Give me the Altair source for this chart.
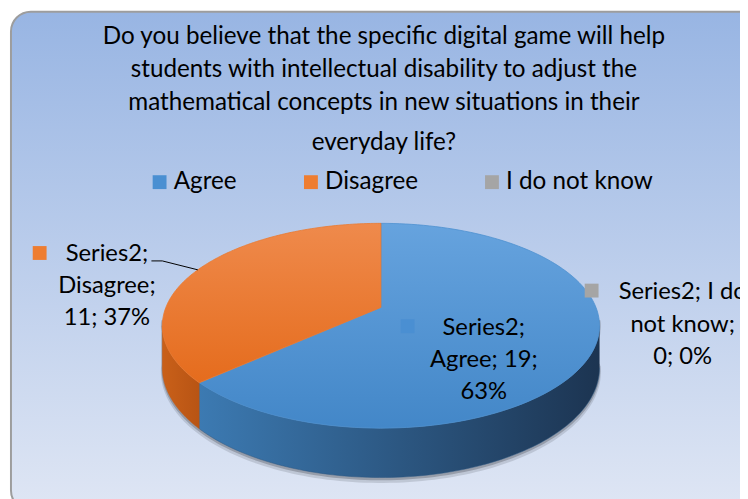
import altair as alt
import numpy as np
import pandas as pd

# ---------------- data ----------------
categories = ["Agree", "Disagree", "I do not know"]
values = [19, 11, 0]
series_name = "Series2"
title_lines = [
    "Do you believe that the specific digital game will help",
    "students with intellectual disability to adjust the",
    "mathematical concepts in new situations in their",
    "everyday life?",
]
palette = ["#4a8fd2", "#ee7d31", "#a5a5a5"]

total = sum(values)
pcts = [round(v / total * 100) for v in values]
label_texts = [
    f"{series_name};\n{categories[0]}; {values[0]};\n{pcts[0]}%",
    f"{series_name};\n{categories[1]};\n{values[1]}; {pcts[1]}%",
    f"{series_name}; I do\nnot know;\n{values[2]}; {pcts[2]}%",
]

# ---------------- layout (page pixels) ----------------
FONT = "Lato"
CX, CY = 385.0, 308.0          # apex of the pie (top face)
A, B, K, DEPTH = 217.4, 100.2, 0.179, 41.0
label_pos = [(489, 329), (108, 254), (690, 293)]   # centre of first line
marker_pos = [(412, 327), (40, 253), (598, 291)]

starts = np.concatenate([[0], np.cumsum(values)[:-1]]) / total * 360
ends = np.cumsum(values) / total * 360


def rim(theta_deg, drop=0.0):
    t = np.radians(theta_deg)
    den = 1 + K * np.cos(t)
    return CX + A * np.sin(t) / den, CY - B * np.cos(t) / den + drop / den


rows = []


def add_poly(name, xs, ys):
    for i, (x, y) in enumerate(zip(xs, ys)):
        rows.append({"piece": name, "order": i, "x": float(x), "y": float(y)})


side_lo = np.degrees(np.arccos(-K))
side_hi = 360 - side_lo
for i, cat in enumerate(categories):
    if values[i] <= 0:
        continue
    th = np.linspace(starts[i], ends[i], 120)
    xs, ys = rim(th)
    add_poly(f"top{i}", np.concatenate([[CX], xs, [CX]]), np.concatenate([[CY], ys, [CY]]))
    lo, hi = max(starts[i], side_lo), min(ends[i], side_hi)
    if lo < hi:
        th = np.linspace(lo, hi, 100)
        xt, yt = rim(th)
        xb, yb = rim(th[::-1], DEPTH)
        add_poly(f"side{i}", np.concatenate([xt, xb]), np.concatenate([yt, yb]))

# shadow beneath the front side
th = np.linspace(side_lo - 3, side_hi + 3, 120)
for j, (dx, dy) in enumerate([(0, 4), (0, 2)]):
    xt, yt = rim(th, 0)
    xb, yb = rim(th[::-1], DEPTH)
    add_poly(f"shadow{j}", np.concatenate([xt, xb + dx]), np.concatenate([yt, yb + dy]))

geo = pd.DataFrame(rows)

# leader line for the Disagree label
mid_dis = (starts[1] + ends[1]) / 2
lx, ly = rim(mid_dis)
leader = pd.DataFrame({"x": [153, 164, lx], "y": [261, 261, ly], "order": [0, 1, 2]})

title_df = pd.DataFrame({
    "text": title_lines,
    "x": [388] * len(title_lines),
    "y": [35 + 33 * i + (8 if i == len(title_lines) - 1 else 0) for i in range(len(title_lines))],
})

labels_df = pd.DataFrame({
    "text": label_texts,
    "x": [p[0] for p in label_pos],
    "y": [p[1] for p in label_pos],
})
markers_df = pd.DataFrame({
    "category": categories,
    "x": [p[0] for p in marker_pos],
    "y": [p[1] for p in marker_pos],
})

W, H = 740, 491
xs_ = alt.Scale(domain=[8, 8 + W], nice=False, zero=False)
ys_ = alt.Scale(domain=[8, 8 + H], nice=False, zero=False, reverse=True)


def X(f="x"):
    return alt.X(f"{f}:Q", scale=xs_, axis=None)


def Y(f="y"):
    return alt.Y(f"{f}:Q", scale=ys_, axis=None)


def grad_v(c1, c2):
    return alt.LinearGradient(gradient="linear", x1=0, y1=0, x2=0, y2=1,
                              stops=[alt.GradientStop(color=c1, offset=0),
                                     alt.GradientStop(color=c2, offset=1)])


def grad_h(c1, c2):
    return alt.LinearGradient(gradient="linear", x1=0, y1=0, x2=1, y2=0,
                              stops=[alt.GradientStop(color=c1, offset=0),
                                     alt.GradientStop(color=c2, offset=1)])


background = alt.Chart(pd.DataFrame({"a": [0]})).mark_rect(
    fill=grad_v("#98b5e3", "#dfe6f4"), stroke="#9d9d9d", strokeWidth=2, cornerRadius=20
).encode(x=alt.value(3), x2=alt.value(760), y=alt.value(1), y2=alt.value(505))


def poly(name, fill, stroke, sw=0.8, opacity=1.0):
    return alt.Chart(geo).transform_filter(alt.datum.piece == name).mark_line(
        fill=fill, stroke=stroke, strokeWidth=sw, opacity=opacity
    ).encode(x=X(), y=Y(), order="order:Q")


layers = [background,
          poly("shadow0", "#6f7580", "#6f7580", 3, 0.25),
          poly("shadow1", "#50545c", "#50545c", 1.5, 0.35),
          poly("side0", grad_h("#3c7ab2", "#1c3451"), "#2a5580", 0.5),
          poly("side1", grad_h("#c96019", "#b85414"), "#c05a17", 0.5),
          poly("top0", grad_v("#66a3de", "#4387c8"), "#4d90d0", 0.8),
          poly("top1", grad_v("#ef8a4c", "#e56c1d"), "#ea7a30", 0.8)]

leader_layer = alt.Chart(leader).mark_line(color="#000000", strokeWidth=1).encode(
    x=X(), y=Y(), order="order:Q")

title_layer = alt.Chart(title_df).mark_text(
    font=FONT, fontSize=24.5, color="#000000", align="center", baseline="middle"
).encode(x=X(), y=Y(), text="text:N")

label_layer = alt.Chart(labels_df).mark_text(
    font=FONT, fontSize=24, color="#000000", align="center", baseline="middle",
    lineBreak="\n", lineHeight=32.5
).encode(x=X(), y=Y(), text="text:N")

marker_layer = alt.Chart(markers_df).mark_square(size=196, filled=True, opacity=1).encode(
    x=X(), y=Y(),
    color=alt.Color("category:N",
                    scale=alt.Scale(domain=categories, range=palette),
                    sort=categories,
                    legend=alt.Legend(orient="none", legendX=141, legendY=161,
                                      direction="horizontal", title=None,
                                      symbolType="square", symbolSize=196,
                                      symbolStrokeWidth=0, symbolOpacity=1,
                                      labelFont=FONT, labelFontSize=24.5,
                                      labelColor="#000000", labelOffset=2,
                                      columnPadding=62, padding=0,
                                      labelLimit=400)),
)

chart = alt.layer(*layers, leader_layer, title_layer, label_layer, marker_layer).properties(
    width=W, height=H, autosize=alt.AutoSizeParams(type="none"), padding=0
).configure_view(strokeWidth=0)

chart.save("out.html", embed_options={"renderer": "svg", "actions": False})
